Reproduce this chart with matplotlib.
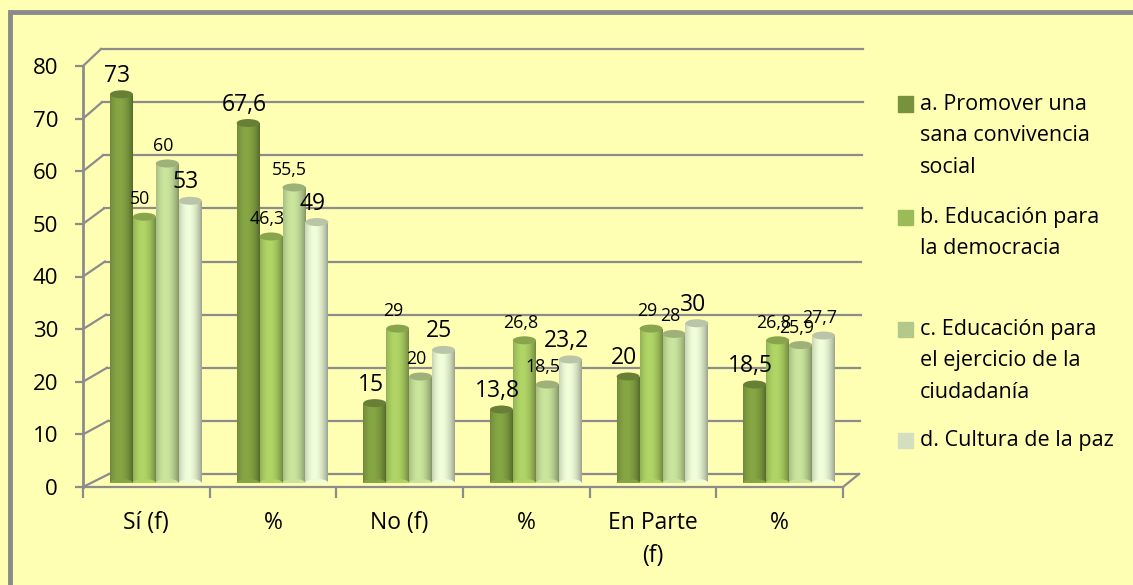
import numpy as np
import matplotlib
matplotlib.use("Agg")
import matplotlib.pyplot as plt
from matplotlib.patches import Ellipse, Rectangle

categories = ["Sí (f)", "%", "No (f)", "%", "En Parte\n(f)", "%"]
series_names = [
    "a. Promover una\nsana convivencia\nsocial",
    "b. Educación para\nla democracia",
    "c. Educación para\nel ejercicio de la\nciudadanía",
    "d. Cultura de la paz",
]
serie_a = [73, 67.6, 15, 13.8, 20, 18.5]
serie_b = [50, 46.3, 29, 26.8, 29, 26.8]
serie_c = [60, 55.5, 20, 18.5, 28, 25.9]
serie_d = [53, 49, 25, 23.2, 30, 27.7]
label_big = [
    [True] * 6,
    [False] * 6,
    [False] * 6,
    [True, True, True, True, True, False],
]

colors = ["#76923C", "#9BBB59", "#B2C98A", "#D3DFC0"]
bg = "#FFFFB4"
grid_c = "#8C8C8C"

plt.rcParams["font.family"] = ["Open Sans", "DejaVu Sans"]

W, H = 1133, 585
fig = plt.figure(figsize=(W / 100, H / 100), dpi=100, facecolor=bg)

# walls, ticks and category labels
axw = fig.add_axes([83 / W, (H - 487) / H, 760 / W, 421 / H])
axw.set_facecolor("none")
axw.set_xlim(-0.5, 5.5)
axw.set_ylim(0, 80)
for s in axw.spines.values():
    s.set_visible(False)


def fig_line(p, q):
    fig.add_artist(plt.Line2D([p[0] / W, q[0] / W], [p[1] / H, q[1] / H],
                              color=grid_c, lw=1.6, zorder=0))


# back wall gridlines with a small perspective offset
for yv in range(0, 90, 10):
    fl = axw.transData.transform((-0.5, yv))
    fr = axw.transData.transform((5.5, yv))
    dy = 13 + 4 * yv / 80
    bl = (fl[0] + 26 - 8 * yv / 80, fl[1] + dy)
    br = (fr[0] + 16 + 4 * yv / 80, fr[1] + dy)
    fig_line(bl, br)
    fig_line(fl, bl)
    if yv == 0:
        fig_line(fl, fr)
        fig_line(fr, br)
axw.plot([-0.5, -0.5], [0, 80], color=grid_c, lw=2, clip_on=False, zorder=0)

axw.set_yticks(range(0, 90, 10))
axw.tick_params(axis="y", length=6, width=1.6, color=grid_c, labelsize=16, pad=12)
axw.set_xticks(range(6))
axw.set_xticklabels(categories, fontsize=16.5, linespacing=1.5)
axw.tick_params(axis="x", length=0, pad=17)
axw.set_xticks(np.arange(-0.5, 6, 1), minor=True)
axw.tick_params(axis="x", which="minor", length=8, width=1.6, color=grid_c)

# bars sit a little deeper, so they use their own scale
ax = fig.add_axes([83 / W, (H - 483) / H, 760 / W, 426 / H])
ax.set_facecolor("none")
ax.axis("off")

bw = 0.181
shift = 0.075
px_per_unit = 426 / 80
cap_h = 8 / px_per_unit
t = np.linspace(0, 1, 64)
profile = 0.72 + 0.42 * np.sin(np.pi * (0.15 + 0.85 * t)) ** 0.8

data = [serie_a, serie_b, serie_c, serie_d]
x = np.arange(len(categories))
for k, vals in enumerate(data):
    base = np.array(matplotlib.colors.to_rgb(colors[k]))
    grad = np.clip(base[None, :] * profile[:, None], 0, 1)[None, :, :]
    xs = x + (k - 1.5) * bw + shift
    bars = ax.bar(xs, vals, width=bw, color=colors[k], zorder=2 + k, lw=0)
    for b, xv, v in zip(bars, xs, vals):
        im = ax.imshow(grad, extent=[xv - bw / 2, xv + bw / 2, 0, v],
                       aspect="auto", zorder=2 + k, interpolation="bilinear")
        im.set_clip_path(b)
        top = np.clip(base * 0.88, 0, 1)
        ax.add_patch(Ellipse((xv, v), bw, cap_h, color=top, zorder=2.5 + k, lw=0))
        ax.add_patch(Ellipse((xv, 0), bw, cap_h, color=grad[0, 32], zorder=2.1 + k, lw=0))
    for j, (xv, v) in enumerate(zip(xs, vals)):
        txt = f"{v:g}".replace(".", ",")
        size = 16.5 if label_big[k][j] else 12.8
        ax.annotate(txt, (xv, v), xytext=(-3, 9), textcoords="offset points",
                    ha="center", va="baseline", fontsize=size, zorder=10,
                    annotation_clip=False)
ax.set_xlim(-0.5, 5.5)
ax.set_ylim(0, 80)

# legend drawn by hand to keep the uneven spacing
leg_y = [104, 217, 329, 440]
for k in range(4):
    fig.add_artist(Rectangle((898 / W, 1 - (leg_y[k] + 7.5) / H), 15 / W, 15 / H,
                             color=colors[k], transform=fig.transFigure))
    fig.text(920 / W, 1 - (leg_y[k] - 10) / H, series_names[k], fontsize=15.5,
             va="top", ha="left", linespacing=1.65)

# chart border (only top/left visible in the crop)
fig.add_artist(Rectangle((10 / W, -0.1), 1.2, 1.1 - 12 / H, fill=False,
                         ec="#8A8A8A", lw=3.5, transform=fig.transFigure))

fig.savefig("out.png", dpi=100, facecolor=bg)
